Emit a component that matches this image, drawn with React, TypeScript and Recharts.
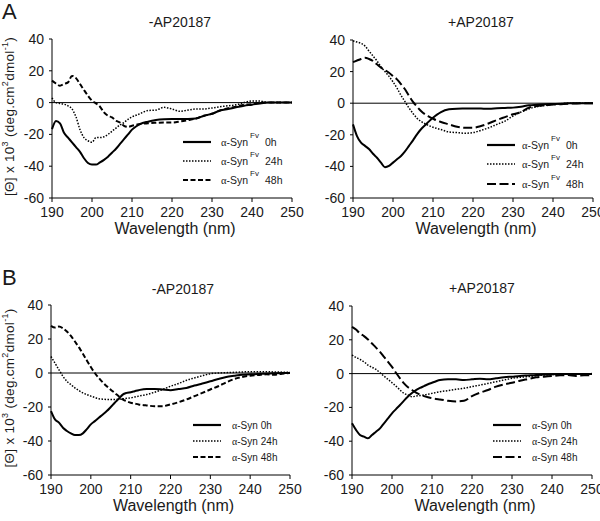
import React from "react";
import { LineChart, Line, XAxis, YAxis, ReferenceLine, Legend, Label } from "recharts";

const FONT = "'Liberation Sans', Arial, sans-serif";
const INK = "#1a1a1a";

// wavelength grid (nm)
const WAVELENGTHS = [
  190, 191, 192, 193, 194, 195, 196, 197, 198, 199, 200, 201, 202, 203, 204, 205, 206, 207, 208, 209, 210, 211, 212,
  214, 216, 218, 220, 222, 224, 226, 228, 230, 232, 234, 236, 238, 240, 242, 244, 246, 248, 250,
];
const X_TICKS = [190, 200, 210, 220, 230, 240, 250];
const Y_TICKS = [-60, -40, -20, 0, 20, 40];
const HOURS = ["0h", "24h", "48h"];

// A, -AP20187 (α-Syn Fv)
const FV_MINUS_0H = [
  -16.7, -11.5, -13, -19, -22, -25, -28, -31, -35, -38, -39, -39, -37.6, -36, -34, -31.5, -29, -26, -23, -20, -17, -15, -13.5,
  -12, -11, -10.5, -10.3, -10.3, -10.3, -10, -8.3, -7, -5, -4, -3, -2, -1.3, -0.5, 0, 0, 0, 0,
];
const FV_MINUS_24H = [
  3, 0, -0.5, -1, -2, -4, -9, -17, -22, -24, -25, -22, -22, -21.5, -20, -18, -16, -14, -12.5, -10.5, -9, -8, -7,
  -5, -4.7, -3, -4, -5.5, -4.7, -4, -4, -3.4, -2.6, -2, -1.4, 0, 1, 1, 0, 0, 0, 0,
];
const FV_MINUS_48H = [
  13.8, 12, 10.6, 11.7, 12.7, 16.8, 15.4, 11.7, 7.9, 4.3, 1.2, -0.5, -2.6, -6.2, -8.3, -9.3, -11.4, -12.5, -14.6, -15.3, -14.6, -14, -13.5,
  -13, -12.7, -12.5, -12.5, -11.9, -11, -10, -8.3, -7, -5, -3.5, -2.6, -1.3, -1, 0, 0, 0, 0, 0,
];

// A, +AP20187 (α-Syn Fv)
const FV_PLUS_0H = [
  -13.4, -20.8, -25, -27, -29, -32, -34.5, -37.6, -40.5, -39.7, -37.6, -35.5, -33.4, -30.5, -27, -23.5, -19.7, -16.5, -14, -11.5, -9.2, -7.2, -5.6,
  -3.9, -3.5, -3.4, -3.3, -3.4, -3.5, -3.2, -3, -2.8, -2.2, -1.3, -1, -0.7, -0.5, -0.3, 0, 0, 0, 0,
];
const FV_PLUS_24H = [
  39.4, 38.7, 37.9, 36.2, 33, 29.9, 26.7, 23, 20, 17, 13.5, 9.5, 5, 1, -3, -6.5, -9.5, -11.5, -13, -14.2, -15.2, -16, -16.7,
  -18.2, -18.6, -19, -18.6, -17.2, -15.5, -13.4, -11.3, -8.1, -5.6, -3.5, -2.2, -1.4, -0.7, -0.3, 0, 0, 0, 0,
];
const FV_PLUS_48H = [
  26, 27, 28, 28.8, 28, 26.7, 24.6, 22.5, 21, 19.3, 17.2, 15.1, 12, 8.8, 4.6, 0.8, -2.2, -4.9, -7, -8.5, -9.8, -11, -11.9,
  -13.4, -14.9, -15.5, -15.5, -14.4, -12.7, -10.6, -8.8, -7, -5.6, -2.8, -1.8, -1.4, -0.9, -0.6, -0.3, -0.2, 0, 0,
];

// B, -AP20187 (α-Syn)
const SYN_MINUS_0H = [
  -22.4, -27.3, -29.2, -32.2, -34.1, -35.5, -36.5, -36.5, -35.5, -33, -30.2, -28.3, -26.3, -24.4, -22.4, -20, -17.5, -15.2, -12.7, -11.7, -11.3, -10.7, -10.1,
  -9.4, -9.4, -9.7, -10.1, -9.4, -8.8, -7.4, -6.2, -4.9, -3.5, -2.3, -1.6, -1, -0.8, -0.6, -0.4, -0.2, 0, 0,
];
const SYN_MINUS_24H = [
  9.7, 5.8, 1.9, -1.9, -4.9, -6.8, -8.8, -10.3, -11.7, -12.7, -13.6, -14.4, -15.2, -15.4, -15.6, -15.6, -15.6, -15.4, -15.2, -14.9, -14.6, -14.1, -13.6,
  -12.7, -11.3, -9.7, -7.8, -6.2, -4.3, -2.9, -1.6, -0.4, 0, 0.2, 0.4, 0.6, 0.8, 0.8, 0.8, 0.6, 0.5, 0.4,
];
const SYN_MINUS_48H = [
  27.7, 26.7, 27.3, 26.3, 24.4, 21.8, 18.5, 15.2, 11.3, 7.4, 3.5, 0, -2.9, -5.5, -7.8, -9.8, -11.7, -13.7, -15.6, -16.6, -17.5, -18, -18.5,
  -19.1, -19.5, -19.5, -18.5, -17.2, -15.6, -13.6, -11.7, -9.7, -7.8, -5.5, -3.5, -2.3, -1.6, -1.2, -0.8, -1, -0.4, 0,
];

// B, +AP20187 (α-Syn)
const SYN_PLUS_0H = [
  -29.4, -33.3, -36.3, -37.3, -38.3, -36.3, -34.4, -32.4, -29.4, -26.5, -23.5, -21, -18.6, -16, -13.6, -11.5, -9.8, -8.5, -7.4, -6.3, -5.4, -4.5, -3.8,
  -3.4, -3.4, -3.8, -3.4, -3, -3.4, -2.8, -2.2, -1.8, -1.4, -1.1, -0.8, -0.6, -0.4, -0.3, -0.3, -0.3, -0.3, -0.3,
];
const SYN_PLUS_24H = [
  11, 9.6, 8.4, 7, 5, 3.7, 2.5, 0.5, -1.5, -3.4, -5.4, -7.4, -9.7, -11.7, -12.7, -13.7, -13.3, -13, -12.7, -12.2, -11.7, -11.2, -10.7,
  -10.1, -9.3, -8.7, -7.7, -6.8, -5.8, -4.8, -3.8, -2.8, -2.2, -1.8, -1.2, -0.9, -0.6, -0.4, -0.3, -0.2, -0.1, 0,
];
const SYN_PLUS_48H = [
  27.7, 26.1, 23.7, 22.2, 20.2, 17.8, 15.4, 12.9, 9.9, 7, 4, 0.5, -2.8, -5.8, -8.1, -9.7, -11.3, -12.4, -13.3, -14, -14.6, -15, -15.3,
  -16.1, -16.5, -16.1, -13.3, -11.3, -9.7, -7.7, -6.4, -5.4, -4.2, -3.2, -2.2, -1.8, -1.4, -1, -0.9, -1.4, -1, -0.9,
];

const DOTTED = "1.5 1.5";
const SHORT_DASH = "5 2.5";
const LONG_DASH = "9 3.5";

// y-axis title, rotated, with superscripts
const renderYLabel = (props: any) => {
  const vb = props.viewBox || {};
  const cy = vb.y + vb.height / 2 - 2;
  return (
    <text
      transform={`translate(14, ${cy}) rotate(-90)`}
      textAnchor="middle"
      fontSize={13.5}
      letterSpacing={0.3}
      fontFamily={FONT}
      fill={INK}
    >
      [Θ] x 10
      <tspan dy={-6} fontSize={9}>3</tspan>
      <tspan dy={6}> (deg.cm</tspan>
      <tspan dy={-6} fontSize={9}>2</tspan>
      <tspan dy={6}>dmol</tspan>
      <tspan dy={-6} fontSize={9}>-1</tspan>
      <tspan dy={6}>)</tspan>
    </text>
  );
};

const renderXLabel = (props: any) => {
  const vb = props.viewBox || {};
  return (
    <text x={vb.x + vb.width / 2 + 3} y={vb.y + 36} textAnchor="middle" fontSize={16} fontFamily={FONT} fill={INK}>
      Wavelength (nm)
    </text>
  );
};

type LegendCfg = { left: number; top: number; rowHeight: number; gap: number; fontSize: number; sup: boolean };

const makeLegend = (cfg: LegendCfg, dash48: string) => () => {
  const styles = [
    { dash: undefined, width: 2.2 },
    { dash: DOTTED, width: 1.5 },
    { dash: dash48, width: 2.2 },
  ];
  return (
    <div style={{ fontFamily: FONT, fontSize: cfg.fontSize, color: INK }}>
      {HOURS.map((h, i) => (
        <div key={h} style={{ display: "flex", alignItems: "center", height: cfg.rowHeight, whiteSpace: "nowrap" }}>
          <svg width={28} height={4} style={{ display: "block" }}>
            <line x1={0} x2={28} y1={2} y2={2} stroke="#000" strokeWidth={styles[i].width} strokeDasharray={styles[i].dash} />
          </svg>
          <span style={{ marginLeft: cfg.gap }}>
            <span style={{ fontFamily: "'Liberation Serif', serif" }}>α</span>-Syn
            {cfg.sup ? (
              <span style={{ fontSize: 8, position: "relative", top: -8, marginLeft: 2 }}>Fv</span>
            ) : null}
            <span style={{ marginLeft: cfg.sup ? 6 : 3 }}>{h}</span>
          </span>
        </div>
      ))}
    </div>
  );
};

type PanelProps = {
  left: number;
  top: number;
  width: number;
  margin: { top: number; right: number; bottom: number; left: number };
  s0: number[];
  s24: number[];
  s48: number[];
  dash48: string;
  legend: LegendCfg;
  yLabel: boolean;
};

function Panel({ left, top, width, margin, s0, s24, s48, dash48, legend, yLabel }: PanelProps) {
  const data = WAVELENGTHS.map((wl, i) => ({ wl, h0: s0[i], h24: s24[i], h48: s48[i] }));
  return (
    <div style={{ position: "absolute", left, top }}>
      <LineChart width={width} height={260} data={data} margin={margin}>
        <XAxis
          dataKey="wl"
          type="number"
          domain={[190, 250]}
          ticks={X_TICKS}
          interval={0}
          height={30}
          stroke="#000"
          tickSize={4}
          tickMargin={5}
          tick={{ fontSize: 14, fill: INK, fontFamily: FONT }}
        >
          <Label content={renderXLabel} />
        </XAxis>
        <YAxis
          type="number"
          domain={[-60, 40]}
          ticks={Y_TICKS}
          interval={0}
          width={30}
          stroke="#000"
          tickSize={3}
          tickMargin={5}
          tick={{ fontSize: 14, fill: INK, fontFamily: FONT }}
        >
          {yLabel ? <Label content={renderYLabel} /> : null}
        </YAxis>
        <ReferenceLine y={0} stroke="#000" strokeWidth={1} />
        <Legend
          layout="vertical"
          align="center"
          verticalAlign="middle"
          content={makeLegend(legend, dash48)}
          wrapperStyle={{ left: legend.left, top: legend.top, width: "auto" }}
        />
        <Line type="monotone" dataKey="h0" stroke="#000" strokeWidth={2} dot={false} isAnimationActive={false} />
        <Line type="monotone" dataKey="h24" stroke="#000" strokeWidth={1.5} strokeDasharray={DOTTED} dot={false} isAnimationActive={false} />
        <Line type="monotone" dataKey="h48" stroke="#000" strokeWidth={2} strokeDasharray={dash48} dot={false} isAnimationActive={false} />
      </LineChart>
    </div>
  );
}

export default function App() {
  return (
    <div style={{ position: "absolute", left: 0, top: 0, width: 600, height: 521, background: "#fff", overflow: "hidden" }}>
      <Panel
        left={0}
        top={0}
        width={312}
        margin={{ top: 39, right: 20, bottom: 32, left: 22 }}
        s0={FV_MINUS_0H}
        s24={FV_MINUS_24H}
        s48={FV_MINUS_48H}
        dash48={SHORT_DASH}
        legend={{ left: 183, top: 132, rowHeight: 19, gap: 10, fontSize: 10.5, sup: true }}
        yLabel
      />
      <Panel
        left={300}
        top={0}
        width={300}
        margin={{ top: 40, right: 7, bottom: 32, left: 23 }}
        s0={FV_PLUS_0H}
        s24={FV_PLUS_24H}
        s48={FV_PLUS_48H}
        dash48={LONG_DASH}
        legend={{ left: 187, top: 135, rowHeight: 19.5, gap: 7, fontSize: 10.5, sup: true }}
        yLabel={false}
      />
      <Panel
        left={0}
        top={260}
        width={312}
        margin={{ top: 45, right: 22, bottom: 15, left: 21 }}
        s0={SYN_MINUS_0H}
        s24={SYN_MINUS_24H}
        s48={SYN_MINUS_48H}
        dash48={SHORT_DASH}
        legend={{ left: 193, top: 157, rowHeight: 16, gap: 11, fontSize: 10, sup: false }}
        yLabel
      />
      <Panel
        left={300}
        top={260}
        width={300}
        margin={{ top: 46, right: 8, bottom: 15, left: 22 }}
        s0={SYN_PLUS_0H}
        s24={SYN_PLUS_24H}
        s48={SYN_PLUS_48H}
        dash48={LONG_DASH}
        legend={{ left: 193, top: 157, rowHeight: 16, gap: 11, fontSize: 10, sup: false }}
        yLabel={false}
      />
      <svg width={600} height={521} style={{ position: "absolute", left: 0, top: 0, pointerEvents: "none" }}>
        <g fontFamily={FONT} fill={INK}>
          <text x={2} y={19} fontSize={22}>A</text>
          <text x={2} y={285} fontSize={22}>B</text>
          <text x={180} y={27} fontSize={14} textAnchor="middle">-AP20187</text>
          <text x={481} y={27} fontSize={14} textAnchor="middle">+AP20187</text>
          <text x={183} y={294} fontSize={14} textAnchor="middle">-AP20187</text>
          <text x={482} y={293} fontSize={14} textAnchor="middle">+AP20187</text>
        </g>
      </svg>
    </div>
  );
}
